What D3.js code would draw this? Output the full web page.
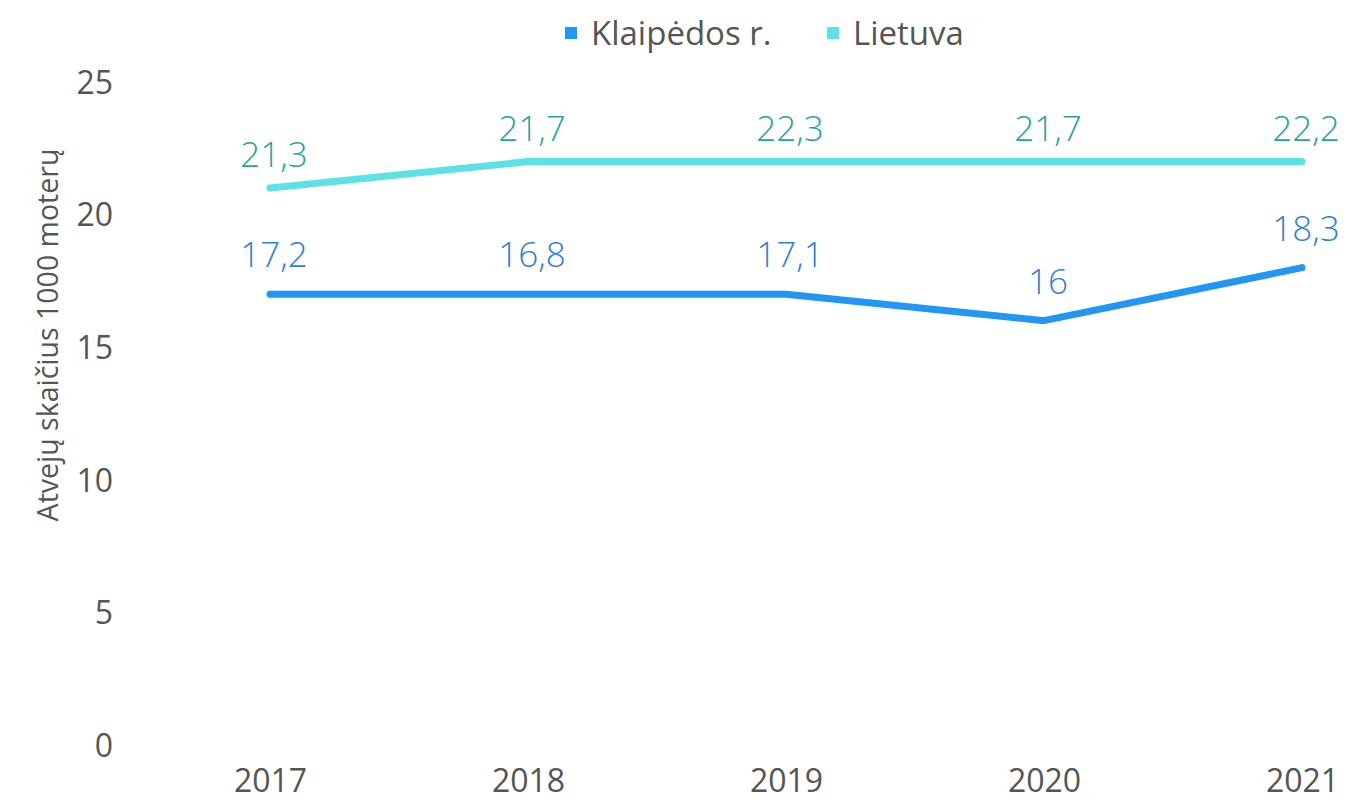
<!DOCTYPE html>
<html lang="lt">
<head>
<meta charset="utf-8">
<title></title>
<script src="https://d3js.org/d3.v7.min.js"></script>
<style>
  body { margin: 0; background: #fff; }
  svg text { font-family: "Open Sans", "Noto Sans", sans-serif; }
  .tick text { fill: #555; font-size: 32px; }
  .lbl { font-size: 35px; }
  .legend text { fill: #555; font-size: 33px; }
</style>
</head>
<body>
<svg width="1346" height="803"></svg>
<script>
  // categories and values
  var years = ["2017", "2018", "2019", "2020", "2021"];
  var klaipedaLine = [17, 17, 17, 16, 18];
  var lietuvaLine = [21, 22, 22, 22, 22];
  var klaipedaLabels = ["17,2", "16,8", "17,1", "16", "18,3"];
  var lietuvaLabels = ["21,3", "21,7", "22,3", "21,7", "22,2"];
  var yTicks = [0, 5, 10, 15, 20, 25];

  var series = [
    {name: "Klaipėdos r.", values: klaipedaLine, labels: klaipedaLabels, color: "#2196f3", text: "#2f7fd3", lift: 27},
    {name: "Lietuva", values: lietuvaLine, labels: lietuvaLabels, color: "#5ce1e6", text: "#26a3a3", lift: 21}
  ];

  var svg = d3.select("svg");

  var x = d3.scalePoint().domain(years).range([270, 1302]);
  var y = d3.scaleLinear().domain([0, 25]).range([745, 82]);

  // y axis
  var yAxis = svg.append("g")
      .attr("transform", "translate(113,0)")
      .call(d3.axisLeft(y).tickValues(yTicks).tickSize(0).tickPadding(0));
  yAxis.select(".domain").remove();
  yAxis.selectAll("text").attr("dy", "0.35em");

  // x axis
  var xAxis = svg.append("g")
      .attr("transform", "translate(0,760)")
      .call(d3.axisBottom(x).tickSize(0).tickPadding(0));
  xAxis.select(".domain").remove();
  xAxis.selectAll("text").attr("dy", "1.0em");

  // y title
  svg.append("text")
      .attr("transform", "translate(58,335) rotate(-90)")
      .attr("text-anchor", "middle")
      .style("font-size", "28.5px")
      .style("fill", "#555")
      .text("Atvejų skaičius 1000 moterų");

  var line = d3.line()
      .x((d, i) => x(years[i]))
      .y(d => y(d));

  series.forEach(function(s) {
    svg.append("path")
        .datum(s.values)
        .attr("fill", "none")
        .attr("stroke", s.color)
        .attr("stroke-width", 7)
        .attr("stroke-linecap", "round")
        .attr("stroke-linejoin", "round")
        .attr("d", line);

    svg.append("g").selectAll("text")
        .data(s.values)
        .join("text")
        .attr("class", "lbl")
        .attr("x", (d, i) => x(years[i]) + 4)
        .attr("y", d => y(d) - s.lift)
        .attr("text-anchor", "middle")
        .style("fill", s.text)
        .style("font-weight", 300)
        .text((d, i) => s.labels[i]);
  });

  // legend
  var legend = svg.append("g").attr("class", "legend");
  var lx = [565, 827];
  series.forEach(function(s, i) {
    var g = legend.append("g").attr("transform", `translate(${lx[i]},27)`);
    g.append("rect").attr("width", 12).attr("height", 12).attr("fill", s.color);
    g.append("text").attr("x", 26).attr("y", 6).attr("dy", "0.36em").text(s.name);
  });
</script>
</body>
</html>
